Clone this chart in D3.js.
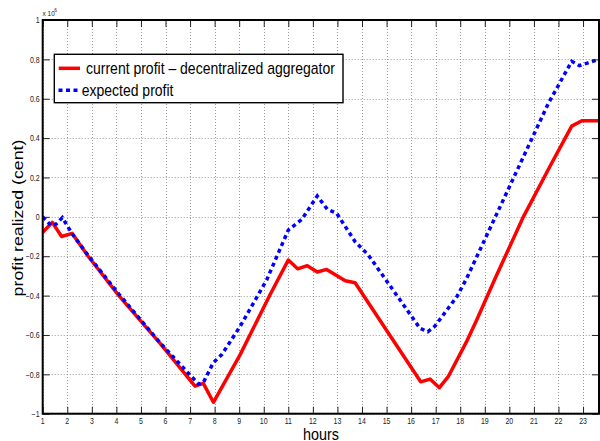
<!DOCTYPE html>
<html>
<head>
<meta charset="utf-8">
<script src="https://cdn.jsdelivr.net/npm/d3@7"></script>
<style>
  body { margin: 0; background: #fff; }
  svg { display: block; }
  text { font-family: "Liberation Sans", Arial, Helvetica, sans-serif; }
</style>
</head>
<body>
<svg id="chart" width="600" height="441"></svg>
<script>
// Axis ticks
const hourTicks = d3.range(1, 24);
const profitTicks = [-1, -0.8, -0.6, -0.4, -0.2, 0, 0.2, 0.4, 0.6, 0.8, 1];

// Profit realized, in units of 10^6 cent
const currentHours = [1.0, 1.39, 1.77, 2.2, 2.85, 4.1, 5.78, 7.2, 7.54, 7.95, 9.04, 10.25, 11.0,
  11.38, 11.77, 12.18, 12.56, 13.32, 13.72, 15.16, 16.39, 16.77, 17.15, 17.51, 18.29, 18.67,
  19.42, 20.57, 21.72, 22.54, 22.95, 23.65];
const currentProfit = [-0.079, -0.028, -0.10, -0.084, -0.20, -0.40, -0.643, -0.86, -0.846, -0.942,
  -0.70, -0.397, -0.219, -0.264, -0.248, -0.28, -0.267, -0.325, -0.335, -0.607, -0.838, -0.824,
  -0.868, -0.812, -0.626, -0.524, -0.313, 0.0, 0.272, 0.461, 0.488, 0.488];

const expectedHours = [1.0, 1.35, 1.55, 1.8, 2.2, 2.85, 4.1, 5.78, 7.34, 7.54, 7.95, 8.29, 9.03,
  10.12, 11.0, 11.55, 12.18, 12.59, 12.97, 13.72, 14.26, 16.36, 16.68, 16.97, 17.86, 18.26,
  21.59, 22.54, 22.85, 23.15, 23.65];
const expectedProfit = [0.0, -0.045, -0.036, -0.004, -0.086, -0.196, -0.392, -0.64, -0.849, -0.842,
  -0.74, -0.70, -0.558, -0.32, -0.067, -0.013, 0.106, 0.038, 0.018, -0.126, -0.194, -0.566, -0.584,
  -0.555, -0.406, -0.313, 0.577, 0.79, 0.768, 0.78, 0.80];

const seriesNames = ["current profit \u2013 decentralized aggregator", "expected profit"];

const svg = d3.select("#chart");
const plot = { left: 42.7, right: 599, top: 20, bottom: 413.7 };

const x = d3.scaleLinear().domain([1, 23.65]).range([plot.left, plot.right]);
const y = d3.scaleLinear().domain([-1, 1]).range([plot.bottom, plot.top]);

// Text in this figure is slightly taller than wide
const SY = 1.2;
function stretchedText(g, px, py, str, size, anchor) {
  return g.append("text")
    .attr("transform", `translate(${px},${py}) scale(1,${SY})`)
    .attr("font-size", size)
    .attr("text-anchor", anchor || "start")
    .attr("fill", "#000")
    .text(str);
}

// Dotted grid
const grid = svg.append("g").attr("stroke", "#9a9a9a").attr("stroke-width", 1)
  .attr("stroke-dasharray", "1,2");
grid.selectAll("line.v").data(hourTicks).join("line").attr("class", "v")
  .attr("x1", d => Math.round(x(d)) + 0.5).attr("x2", d => Math.round(x(d)) + 0.5)
  .attr("y1", plot.top).attr("y2", plot.bottom);
grid.selectAll("line.h").data(profitTicks).join("line").attr("class", "h")
  .attr("y1", d => Math.round(y(d)) + 0.5).attr("y2", d => Math.round(y(d)) + 0.5)
  .attr("x1", plot.left).attr("x2", plot.right);

// Series
svg.append("clipPath").attr("id", "plotClip").append("rect")
  .attr("x", plot.left).attr("y", plot.top)
  .attr("width", plot.right - plot.left + 2).attr("height", plot.bottom - plot.top);

const line = d3.line().x(d => x(d[0])).y(d => y(d[1]));
const lines = svg.append("g").attr("clip-path", "url(#plotClip)").attr("fill", "none");
lines.append("path")
  .datum(currentHours.map((h, i) => [h, currentProfit[i]]))
  .attr("d", line)
  .attr("stroke", "#ff0000").attr("stroke-width", 3.5)
  .attr("stroke-linejoin", "round");
lines.append("path")
  .datum(expectedHours.map((h, i) => [h, expectedProfit[i]]))
  .attr("d", line)
  .attr("stroke", "#0000ff").attr("stroke-width", 3.5)
  .attr("stroke-dasharray", "4,3.5");

// Inward ticks on all four sides
function ticks(axis, tx, ty) {
  const g = svg.append("g").attr("transform", `translate(${tx},${ty})`).call(axis);
  g.select(".domain").remove();
  g.selectAll(".tick line").attr("stroke", "#222").attr("stroke-width", 1);
  g.selectAll(".tick text").remove();
}
ticks(d3.axisBottom(x).tickValues(hourTicks).tickSize(-7), 0, plot.bottom);
ticks(d3.axisTop(x).tickValues(hourTicks).tickSize(-7), 0, plot.top);
ticks(d3.axisLeft(y).tickValues(profitTicks).tickSize(-7), plot.left, 0);
ticks(d3.axisRight(y).tickValues(profitTicks).tickSize(-7), plot.right, 0);

// Frame
svg.append("rect")
  .attr("x", plot.left).attr("y", plot.top)
  .attr("width", plot.right - plot.left).attr("height", plot.bottom - plot.top)
  .attr("fill", "none").attr("stroke", "#000").attr("stroke-width", 2);

// Tick labels
const labels = svg.append("g");
const fmtY = d => d === 0 ? "0" : (d < 0 ? "\u2212" : "") + String(Math.abs(d)).replace(/^0\./, "0.");
hourTicks.forEach(d => {
  stretchedText(labels, x(d), 424.3, String(d), 7, "middle").attr("fill", "#222");
});
profitTicks.forEach(d => {
  stretchedText(labels, 39.6, y(d) + 3.2, fmtY(d), 7, "end").attr("fill", "#222");
});

// Exponent label
stretchedText(svg, 42.5, 15.6, "x 10", 6.5, "start").attr("fill", "#222");
stretchedText(svg, 54.3, 12.4, "6", 4.8, "start").attr("fill", "#222");

// Axis titles
stretchedText(svg, 321, 440, "hours", 14.4, "middle");
svg.append("text")
  .attr("transform", `translate(22.9,218) rotate(-90) scale(${SY},1)`)
  .attr("font-size", 14.8)
  .attr("text-anchor", "middle")
  .text("profit realized (cent)");

// Legend
const legend = svg.append("g");
legend.append("rect")
  .attr("x", 54.3).attr("y", 54.3).attr("width", 288.7).attr("height", 48.4)
  .attr("fill", "#fff").attr("stroke", "#000").attr("stroke-width", 1.4);
legend.append("line")
  .attr("x1", 58.7).attr("x2", 80).attr("y1", 68.3).attr("y2", 68.3)
  .attr("stroke", "#ff0000").attr("stroke-width", 3.5);
legend.append("line")
  .attr("x1", 58.5).attr("x2", 80).attr("y1", 90.3).attr("y2", 90.3)
  .attr("stroke", "#0000ff").attr("stroke-width", 3.5).attr("stroke-dasharray", "4,3.5");
stretchedText(legend, 86, 74, seriesNames[0], 14, "start");
stretchedText(legend, 81.7, 95.7, seriesNames[1], 14, "start");
</script>
</body>
</html>
